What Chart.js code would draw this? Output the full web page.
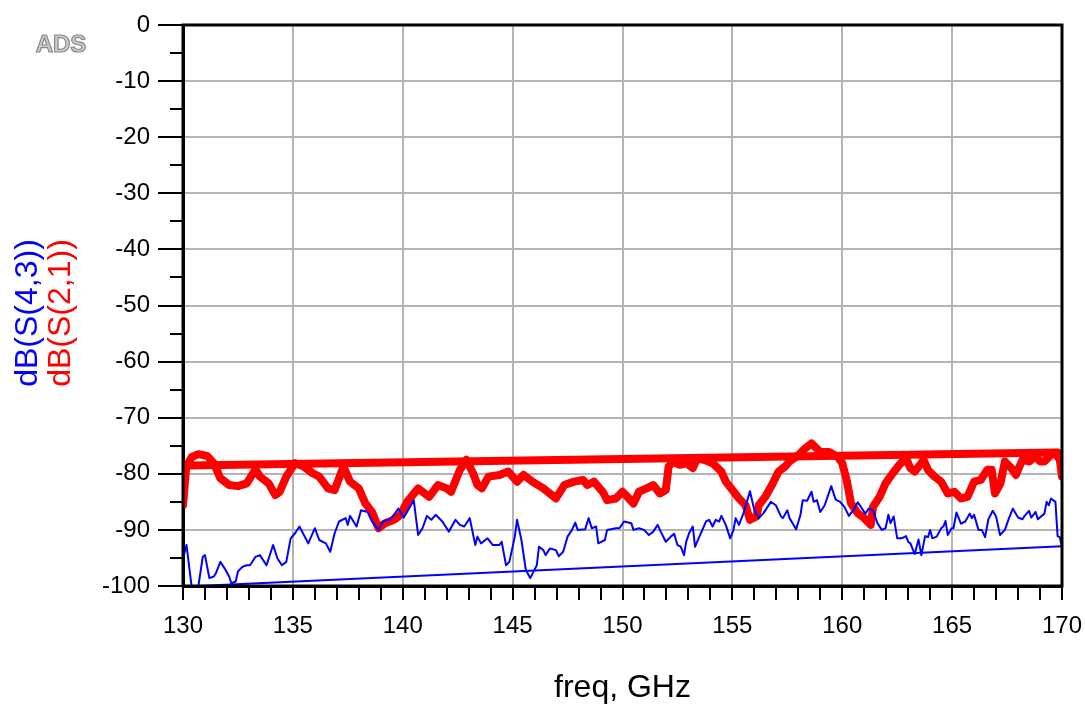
<!DOCTYPE html>
<html>
<head>
<meta charset="utf-8">
<script src="https://cdn.jsdelivr.net/npm/chart.js@4.4.1/dist/chart.umd.min.js"></script>
<style>
  html, body { margin: 0; padding: 0; background: #fff; }
  #wrap { width: 1085px; height: 706px; }
</style>
</head>
<body>
<div id="wrap"><canvas id="myChart" width="1085" height="706"></canvas></div>
<script>
// dB(S(2,1)) trace, freq in GHz
const s21Freq = [130.0, 130.15, 130.4, 130.7, 131.1, 131.4, 131.7, 132.1, 132.5, 132.9, 133.3, 133.5, 133.9, 134.2, 134.4, 134.7, 135.1, 135.5, 135.9, 136.2,
  136.6, 136.9, 137.3, 137.6, 138.0, 138.3, 138.6, 138.9, 139.2, 139.6, 139.9, 140.2, 140.7, 141.2, 141.6, 142.0, 142.2, 142.6, 142.9, 143.2,
  143.4, 143.6, 143.9, 144.4, 144.8, 145.2, 145.5, 145.9, 146.4, 146.97, 147.35, 147.8, 148.2, 148.4, 148.7, 149.1, 149.3, 149.7, 150.0, 150.2,
  150.5, 150.75, 151.1, 151.4, 151.7, 151.97, 152.1, 152.3, 152.6, 152.9, 153.2, 153.4, 153.7, 154.1, 154.5, 154.7, 155.0, 155.3, 155.6, 155.8,
  156.1, 156.2, 156.5, 156.8, 157.1, 157.4, 157.6, 158.0, 158.3, 158.6, 159.0, 159.4, 159.8, 160.0, 160.2, 160.4, 160.7, 161.0, 161.3, 161.4,
  161.7, 161.97, 162.3, 162.6, 162.9, 163.1, 163.3, 163.6, 163.7, 163.9, 164.2, 164.5, 164.8, 165.1, 165.4, 165.7, 166.0, 166.3, 166.6, 166.8,
  166.95, 167.2, 167.4, 167.7, 167.9, 168.2, 168.5, 168.8, 169.0, 169.2, 169.5, 169.7, 169.9, 170.0];
const s21Db = [-85.6, -78.7, -77.0, -76.5, -76.8, -78.1, -80.8, -82.0, -82.2, -81.7, -79.2, -80.5, -81.7, -83.8, -83.2, -80.5, -78.1, -78.7, -79.9, -80.5,
  -82.6, -82.9, -78.7, -81.4, -82.6, -85.3, -86.8, -89.7, -88.8, -88.2, -87.3, -85.0, -82.6, -84.1, -82.0, -82.6, -83.2, -79.3, -77.5, -79.9,
  -82.0, -82.6, -80.5, -80.2, -79.6, -81.4, -80.2, -81.4, -82.6, -84.4, -82.0, -81.4, -81.1, -82.0, -81.4, -83.2, -84.7, -84.4, -83.2, -84.0,
  -85.3, -83.2, -82.6, -82.0, -83.5, -82.9, -78.7, -77.8, -78.4, -78.1, -79.0, -77.2, -77.5, -78.1, -79.6, -81.4, -82.9, -84.4, -85.6, -88.2,
  -87.6, -85.6, -84.1, -82.0, -79.6, -78.7, -77.8, -76.7, -75.5, -74.6, -76.1, -76.1, -77.0, -78.1, -81.1, -85.3, -87.0, -87.9, -89.1, -85.9,
  -84.1, -81.7, -79.9, -78.4, -77.2, -79.0, -79.6, -78.1, -77.5, -79.3, -80.5, -81.4, -83.5, -83.2, -84.4, -84.1, -81.4, -81.1, -79.3, -79.3,
  -83.5, -81.7, -77.8, -79.0, -80.2, -77.5, -77.8, -76.9, -77.8, -77.8, -76.6, -76.4, -77.5, -80.5];
const s21ReturnFreq = [130.25, 169.8];
const s21ReturnDb = [-78.5, -76.2];

// dB(S(4,3)) trace
const s43Freq = [130.0, 130.16, 130.39, 130.7, 130.9, 131.0, 131.2, 131.4, 131.5, 131.7, 131.9, 132.1, 132.2, 132.4, 132.5, 132.7, 132.9, 133.05, 133.3, 133.5,
  133.8, 134.1, 134.3, 134.5, 134.7, 134.9, 135.1, 135.3, 135.7, 136.0, 136.2, 136.5, 136.7, 136.9, 137.1, 137.4, 137.5, 137.6, 137.9, 138.1,
  138.4, 138.6, 138.9, 139.1, 139.4, 139.6, 139.8, 140.05, 140.5, 140.7, 140.9, 141.1, 141.3, 141.5, 141.8, 142.1, 142.4, 142.6, 142.8, 143.05,
  143.3, 143.4, 143.56, 143.86, 144.1, 144.4, 144.5, 144.7, 144.85, 145.1, 145.2, 145.4, 145.6, 145.8, 146.1, 146.2, 146.4, 146.5, 146.7, 146.97,
  147.1, 147.3, 147.5, 147.7, 147.85, 147.96, 148.3, 148.46, 148.6, 148.8, 148.9, 149.2, 149.3, 149.7, 149.86, 150.07, 150.4, 150.5, 150.75, 150.98,
  151.2, 151.4, 151.6, 151.74, 151.97, 152.2, 152.35, 152.5, 152.65, 152.8, 152.9, 153.03, 153.2, 153.3, 153.5, 153.8, 153.94, 154.1, 154.24, 154.4,
  154.5, 154.7, 154.9, 155.05, 155.15, 155.3, 155.5, 155.8, 156.0, 156.2, 156.4, 156.75, 156.98, 157.2, 157.3, 157.5, 157.6, 157.9, 158.1, 158.2,
  158.4, 158.6, 158.7, 158.85, 159.0, 159.2, 159.5, 159.7, 159.9, 160.1, 160.3, 160.5, 160.7, 160.8, 161.05, 161.2, 161.4, 161.6, 161.8, 161.97,
  162.1, 162.2, 162.34, 162.5, 162.7, 162.9, 163.0, 163.1, 163.3, 163.47, 163.6, 163.77, 163.9, 164.0, 164.1, 164.3, 164.5, 164.6, 164.7, 164.8,
  164.98, 165.06, 165.2, 165.4, 165.6, 165.8, 165.9, 166.0, 166.2, 166.35, 166.5, 166.65, 166.85, 167.0, 167.18, 167.4, 167.56, 167.76, 168.0, 168.2,
  168.3, 168.5, 168.6, 168.8, 168.9, 169.2, 169.3, 169.4, 169.5, 169.7, 169.8, 169.9, 170.0];
const s43Db = [-95.1, -92.7, -100.0, -100.0, -94.8, -94.5, -98.6, -98.3, -97.7, -95.7, -96.9, -98.3, -99.5, -99.2, -97.4, -96.6, -96.3, -96.3, -94.8, -94.5,
  -96.3, -92.7, -95.1, -96.3, -95.7, -91.5, -90.6, -89.4, -92.4, -89.7, -91.8, -92.4, -93.9, -90.6, -88.5, -87.9, -89.1, -87.5, -89.4, -86.5,
  -86.8, -88.5, -90.0, -88.5, -88.2, -87.3, -86.2, -87.8, -84.7, -90.9, -89.7, -87.5, -88.2, -87.3, -88.5, -90.3, -88.2, -89.1, -89.4, -87.9,
  -92.7, -91.2, -92.4, -91.5, -92.7, -92.7, -92.1, -96.3, -95.7, -91.2, -88.2, -91.8, -97.1, -98.6, -96.3, -93.0, -93.6, -94.5, -93.3, -93.6,
  -94.7, -93.9, -91.2, -90.0, -88.7, -90.0, -89.9, -87.9, -89.7, -89.4, -92.4, -91.8, -90.0, -89.7, -89.7, -88.5, -88.8, -90.0, -89.7, -90.0,
  -90.9, -90.3, -89.1, -90.3, -92.1, -91.2, -90.7, -92.7, -93.0, -94.5, -92.1, -90.6, -89.4, -93.0, -91.2, -88.5, -88.2, -89.4, -88.2, -88.5,
  -87.5, -89.1, -91.5, -90.0, -87.9, -89.1, -87.1, -83.1, -86.5, -87.9, -87.1, -85.0, -85.6, -87.5, -87.9, -86.5, -87.9, -89.9, -87.3, -84.7,
  -84.8, -83.2, -85.0, -84.7, -86.8, -85.6, -82.2, -84.6, -85.0, -85.9, -87.5, -86.5, -85.1, -85.6, -87.1, -86.2, -86.5, -88.8, -90.0, -89.7,
  -87.3, -88.8, -87.6, -91.5, -91.5, -91.1, -92.1, -92.4, -94.3, -91.7, -94.5, -91.1, -91.3, -90.0, -91.5, -91.2, -89.7, -89.4, -88.4, -90.9,
  -89.7, -89.7, -86.9, -88.9, -88.5, -87.1, -87.9, -87.3, -90.0, -90.0, -91.3, -88.1, -86.6, -87.6, -90.9, -90.0, -88.2, -86.2, -87.8, -88.1,
  -87.5, -86.6, -87.8, -86.8, -88.1, -87.1, -85.0, -85.6, -84.4, -85.0, -91.1, -91.3, -93.0];
const s43ReturnFreq = [130.7, 170.0];
const s43ReturnDb = [-100.0, -92.9];

const xTicksMin = 130, xTicksMax = 170;
const yTicksMin = -100, yTicksMax = 0;

const FONT = "'Liberation Sans', Arial, sans-serif";
const GRID = '#b4b4b4';
const RED = '#ff0000';
const BLUE = '#0000ff';

const toPoints = (xs, ys) => xs.map((x, i) => ({ x: x, y: ys[i] }));

// frame, y tick marks, axis names and the ADS tag
const framePlugin = {
  id: 'frame',
  afterDraw(chart) {
    const { ctx, chartArea: a, scales } = chart;
    const y = scales.y;
    ctx.save();
    ctx.strokeStyle = '#000';
    ctx.lineWidth = 2;
    for (let v = yTicksMin; v <= yTicksMax; v += 5) {
      const py = Math.round(y.getPixelForValue(v));
      const len = v % 10 === 0 ? 25 : 13;
      ctx.beginPath();
      ctx.moveTo(a.left - len, py);
      ctx.lineTo(a.left, py);
      ctx.stroke();
    }
    ctx.lineWidth = 3;
    ctx.strokeRect(a.left, a.top, a.right - a.left, a.bottom - a.top);

    ctx.font = '32px ' + FONT;
    ctx.textAlign = 'center';
    ctx.textBaseline = 'middle';
    ctx.translate(0, 313);
    ctx.rotate(-Math.PI / 2);
    ctx.fillStyle = BLUE;
    ctx.fillText('dB(S(4,3))', 0, 28);
    ctx.fillStyle = RED;
    ctx.fillText('dB(S(2,1))', 0, 61);
    ctx.restore();

    ctx.save();
    ctx.font = 'bold 24px ' + FONT;
    ctx.textAlign = 'center';
    ctx.textBaseline = 'middle';
    ctx.fillStyle = '#cccccc';
    ctx.strokeStyle = '#8a8a8a';
    ctx.lineWidth = 1.2;
    ctx.fillText('ADS', 61, 45);
    ctx.strokeText('ADS', 61, 45);
    ctx.restore();
  }
};

const ctx = document.getElementById('myChart').getContext('2d');
new Chart(ctx, {
  type: 'line',
  data: {
    datasets: [
      {
        label: 'dB(S(4,3))',
        data: toPoints(s43Freq, s43Db),
        borderColor: BLUE,
        borderWidth: 2,
        order: 1
      },
      {
        label: 'dB(S(4,3)) return',
        data: toPoints(s43ReturnFreq, s43ReturnDb),
        borderColor: BLUE,
        borderWidth: 2,
        order: 2
      },
      {
        label: 'dB(S(2,1))',
        data: toPoints(s21Freq, s21Db),
        borderColor: RED,
        borderWidth: 8,
        order: 3
      },
      {
        label: 'dB(S(2,1)) return',
        data: toPoints(s21ReturnFreq, s21ReturnDb),
        borderColor: RED,
        borderWidth: 8,
        order: 4
      }
    ]
  },
  options: {
    responsive: false,
    animation: false,
    layout: { padding: { left: 0, right: 23, top: 25, bottom: 0 } },
    elements: {
      point: { radius: 0, hoverRadius: 0 },
      line: { tension: 0, fill: false, borderJoinStyle: 'round', borderCapStyle: 'round' }
    },
    plugins: {
      legend: { display: false },
      tooltip: { enabled: false }
    },
    scales: {
      x: {
        type: 'linear',
        min: xTicksMin,
        max: xTicksMax,
        afterFit: (s) => { s.height = 120; s.paddingLeft = 0; s.paddingRight = 0; },
        border: { display: true, color: '#000', width: 3 },
        grid: {
          color: (c) => (Math.round(c.tick.value) % 5 === 0 ? GRID : 'rgba(0,0,0,0)'),
          lineWidth: 2,
          drawTicks: true,
          tickLength: 14,
          tickColor: '#000',
          tickWidth: 2
        },
        ticks: {
          stepSize: 1,
          autoSkip: false,
          maxRotation: 0,
          padding: 12,
          color: '#000',
          font: { family: FONT, size: 24 },
          callback: (v) => (Math.round(v) % 5 === 0 ? String(Math.round(v)) : '')
        },
        title: {
          display: true,
          text: 'freq, GHz',
          color: '#000',
          font: { family: FONT, size: 32, lineHeight: 1.0 },
          padding: { top: 0, bottom: 2 }
        }
      },
      y: {
        type: 'linear',
        min: yTicksMin,
        max: yTicksMax,
        afterFit: (s) => { s.width = 183; },
        border: { display: true, color: '#000', width: 3 },
        grid: {
          color: (c) => (Math.round(c.tick.value) % 10 === 0 ? GRID : 'rgba(0,0,0,0)'),
          lineWidth: 2,
          drawTicks: true,
          tickLength: 25,
          tickColor: 'rgba(0,0,0,0)'
        },
        ticks: {
          stepSize: 5,
          autoSkip: false,
          padding: 8,
          color: '#000',
          font: { family: FONT, size: 24 },
          callback: (v) => (Math.round(v) % 10 === 0 ? String(Math.round(v)) : '')
        }
      }
    }
  },
  plugins: [framePlugin]
});
</script>
</body>
</html>
